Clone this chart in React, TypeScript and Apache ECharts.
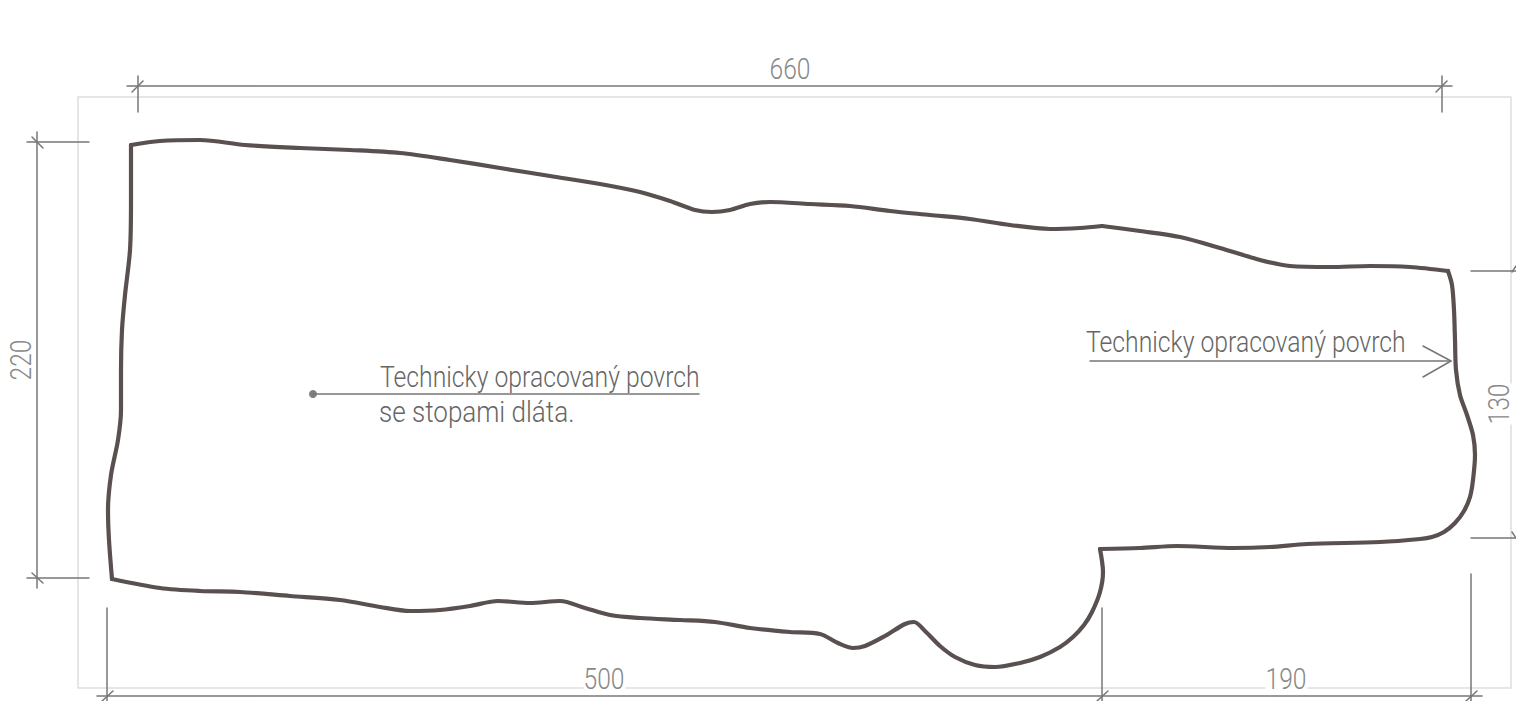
import React, { useEffect, useRef } from "react";
import * as echarts from "echarts";

type P = [number, number];

const outlineTop: P[] = [[131,145],[160,141],[200,140],[245,145],[300,148],[350,150],[400,153],[450,160],[500,168],[550,176],[600,184],[640,192],[670,201],[695,210],[712,212],[730,210],[750,204],[770,202],[810,204],[850,206],[890,211],[930,215],[970,219],[1010,225],[1050,229],[1080,228],[1102,226]];
const outlineTopRight: P[] = [[1102,226],[1140,231],[1180,237],[1220,248],[1260,260],[1290,266],[1330,267],[1370,266],[1410,267],[1448,271]];
const outlineRight: P[] = [[1448,271],[1452,285],[1454,310],[1455,340],[1456,370],[1460,395],[1467,415],[1473,435],[1475,455],[1473,480],[1470,497],[1464,511],[1455,523],[1444,532],[1432,537],[1420,539],[1380,542],[1307,544],[1270,547],[1233,548],[1177,546],[1140,548],[1100,549]];
const outlineBottom: P[] = [[1100,549],[1103,572],[1100,592],[1092,612],[1084,625],[1073,637],[1060,647],[1040,657],[1020,663],[995,667],[975,665],[955,657],[940,646],[925,631],[914,622],[905,624],[885,636],[865,646],[853,648],[838,643],[820,634],[790,632],[750,628],[715,622],[680,620],[640,618],[610,615],[585,608],[560,601],[530,603],[498,601],[470,606],[440,610],[410,611],[380,607],[340,600],[290,596],[240,592],[200,591],[160,588],[112,579]];
const outlineLeft: P[] = [[112,579],[109,540],[108,510],[111,475],[118,440],[121,410],[121,370],[122,330],[125,295],[130,250],[131,200],[131,145]];

const frameSegments: P[][] = [
  [[78,97],[1511,97],[1511,383]],
  [[1511,425],[1511,688],[1308,688]],
  [[1265,688],[626,688]],
  [[583,688],[78,688],[78,97]],
];

const dimensionSegments: P[][] = [
  [[127,86],[1452,86]], [[138,76],[138,112]], [[1442,76],[1442,112]], [[132,92],[143,81]], [[1436,92],[1447,81]],
  [[37,132],[37,588]], [[27,142],[89,142]], [[27,578],[89,578]], [[32,137],[43,148]], [[32,573],[43,583]],
  [[97,696],[1482,696]], [[107,608],[107,701]], [[1102,608],[1102,701]], [[1471,574],[1471,701]],
  [[102,701],[113,691]], [[1097,701],[1108,691]], [[1466,701],[1477,691]],
  [[1471,271],[1516,271]], [[1471,538],[1516,538]], [[1512,272],[1516,266]], [[1512,532],[1516,538]],
  [[1090,361],[1451,361]], [[1423,346],[1451,361],[1423,377]],
  [[313,394],[699,394]],
];

const leaderDot: P[] = [[313,394]];

const noteLine1 = "Technicky opracovaný povrch";
const noteLine2 = "se stopami dláta.";
const dimTexts = ["660", "220", "130", "500", "190"];

const FONT = "Roboto";

function lineSeries(data: P[], color: string, width: number, smooth: number | boolean) {
  return {
    type: "line", data, smooth, symbol: "none", silent: true, clip: false,
    lineStyle: { color, width, cap: "round", join: "round" },
  };
}

function text(t: string, x: number, y: number, size: number, color: string, scaleX: number, align = "left", rotation = 0) {
  return {
    type: "text", x, y, scaleX, rotation, silent: true,
    style: { text: t, fontFamily: FONT, fontWeight: 300, fontSize: size, fill: color, align, verticalAlign: "middle" },
  };
}

export default function App() {
  const ref = useRef<HTMLDivElement>(null);
  useEffect(() => {
    const chart = echarts.init(ref.current!, undefined, { renderer: "svg" });
    chart.setOption({
      animation: false,
      backgroundColor: "#ffffff",
      grid: { left: 0, right: 0, top: 0, bottom: 0 },
      xAxis: { type: "value", min: 0, max: 1516, show: false },
      yAxis: { type: "value", min: 0, max: 701, inverse: true, show: false },
      series: [
        ...frameSegments.map((s) => lineSeries(s, "#dedede", 1.5, false)),
        ...dimensionSegments.map((s) => lineSeries(s, "#777777", 1.5, false)),
        { type: "scatter", data: leaderDot, symbolSize: 8, silent: true, itemStyle: { color: "#5f5f5f" } },
        ...[outlineTop, outlineTopRight, outlineRight, outlineBottom, outlineLeft].map((s) => lineSeries(s, "#5a5050", 4.2, 0.3)),
      ],
      graphic: [
        text(noteLine1, 380, 377, 29, "#666666", 0.853),
        text(noteLine2, 379, 412, 29, "#666666", 0.898),
        text(noteLine1, 1086, 342, 29, "#666666", 0.853),
        text(dimTexts[0], 790, 69, 30, "#888888", 0.82, "center"),
        text(dimTexts[1], 21, 360, 30, "#888888", 0.82, "center", Math.PI / 2),
        text(dimTexts[2], 1499, 404, 30, "#888888", 0.82, "center", Math.PI / 2),
        text(dimTexts[3], 604, 679, 30, "#888888", 0.82, "center"),
        text(dimTexts[4], 1286, 679, 30, "#888888", 0.82, "center"),
      ],
    });
    return () => chart.dispose();
  }, []);
  return <div ref={ref} style={{ position: "fixed", left: 0, top: 0, width: 1516, height: 701 }} />;
}
